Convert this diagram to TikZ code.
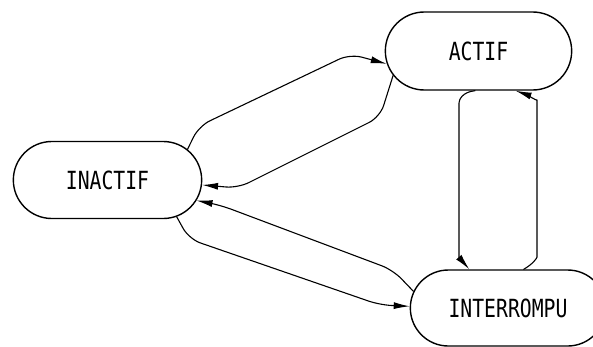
\documentclass[tikz,border=0pt]{standalone}
\usepackage{fontspec}
\usetikzlibrary{shapes.misc, arrows.meta}
\newfontfamily\plotfont[FakeStretch=0.79]{DejaVu Sans Mono}

\tikzset{
	etat/.style={draw, line width=1.4pt, rounded rectangle, minimum width=195pt, minimum height=77pt, font=\plotfont\fontsize{25}{30}\selectfont},
	trans/.style={line width=1.1pt, rounded corners=12pt, -{Latex[length=16pt, width=7pt]}}
}

\begin{document}
\begin{tikzpicture}[x=1pt, y=-1pt, line join=round, line cap=round]
	\useasboundingbox (0,0) rectangle (593,346);
	
	\node[etat] (inactif) at (107.5,180) {INACTIF};
	\node[etat, minimum width=193pt, minimum height=78pt] (actif) at (478.5,51) {ACTIF};
	\node[etat, minimum width=202pt, minimum height=76pt] (interr) at (508,308) {INTERROMPU};
	
	% INACTIF <-> ACTIF
	\draw[trans] (inactif.21) -- (199,126) -- (350,54) -- (actif.188);
	\draw[trans] (actif.196) -- (380,117) -- (238,188) -- (inactif.-3);
	
	% INTERROMPU <-> INACTIF
	\draw[trans] (interr.170) -- (393,270) -- (220,205) -- (inactif.-13);
	\draw[trans] (inactif.-28) -- (189,239) -- (380,305) -- (interr.179);
	
	% ACTIF <-> INTERROMPU
	\draw[trans] (actif.265) .. controls (462,92) and (459,100) .. (459,115) -- (459,246) .. controls (459,257) and (463,262) .. (interr.135);
	\draw[trans] (interr.68) .. controls (533,264) and (537,258) .. (537,245) -- (537,112) .. controls (537,101) and (525,94) .. (actif.313);
\end{tikzpicture}
\end{document}
